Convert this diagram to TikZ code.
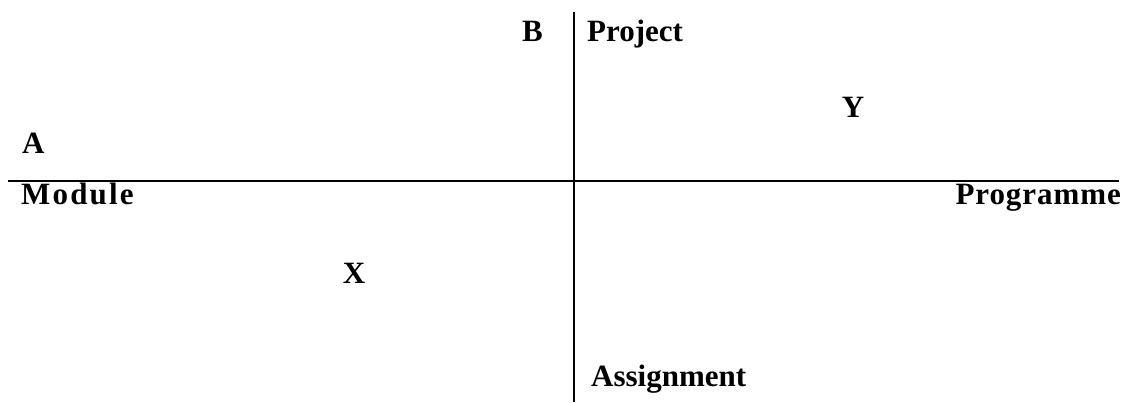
\documentclass[tikz,border=0pt]{standalone}
\usepackage{fontspec}
\setmainfont{Liberation Serif}
\usetikzlibrary{positioning}

\tikzset{lbl/.style={inner sep=0pt, font=\fontsize{31}{37}\selectfont\bfseries}}

\begin{document}
\begin{tikzpicture}[x=1pt,y=-1pt]
\useasboundingbox (0,0) rectangle (1134,402);
\coordinate (left) at (8,181);
\coordinate (right) at (1119,181);
\coordinate (top) at (574,12);
\coordinate (bottom) at (574,402);
\draw[line width=1.6pt] (left) to (right);
\draw[line width=1.6pt] (top) to (bottom);
\node[lbl, anchor=base west] (b) at (522,41) {B};
\node[lbl, anchor=base west] (project) at (587,41) {Project};
\node[lbl, anchor=base] (y) at (853,117) {Y};
\node[lbl, anchor=base west] (a) at (22,153) {A};
\node[lbl, anchor=base west] (module) at (21,204) {\addfontfeature{LetterSpace=7}Module};
\node[lbl, anchor=base east] (programme) at (1121,204) {\addfontfeature{LetterSpace=3}Programme};
\node[lbl, anchor=base] (x) at (354,283) {X};
\node[lbl, anchor=base west] (assignment) at (591,386) {Assignment};
\end{tikzpicture}
\end{document}
